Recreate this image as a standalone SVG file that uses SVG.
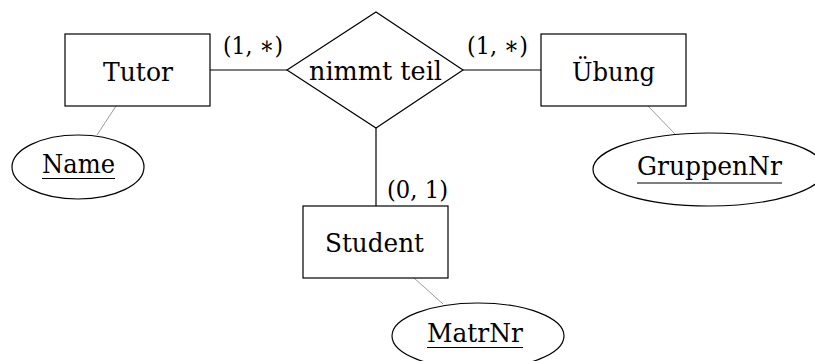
<svg xmlns="http://www.w3.org/2000/svg" width="815" height="361" viewBox="0 0 815 361">
<style>
.shape{fill:#fff;stroke:#000;stroke-width:1.2}
.edge{stroke:#000;stroke-width:1.2;fill:none}
.attr{stroke:#808080;stroke-width:0.8;fill:none}
.ul{stroke:#000;stroke-width:1.2}
.t{font-family:'DejaVu Serif', serif;font-size:26px;fill:#000;text-anchor:middle}
.card{font-size:25px}
</style>
<rect width="815" height="361" fill="#fff"/>
<g id="connectors">
<line class="edge" x1="210" y1="70" x2="287" y2="70"/>
<line class="edge" x1="463" y1="70" x2="541" y2="70"/>
<line class="edge" x1="376" y1="128" x2="376" y2="206"/>
<line class="attr" x1="116" y1="106" x2="97" y2="135"/>
<line class="attr" x1="648" y1="106" x2="675" y2="134"/>
<line class="attr" x1="414" y1="278" x2="443" y2="304"/>
<text class="t card" x="253" y="54" textLength="60" lengthAdjust="spacingAndGlyphs">(1, ∗)</text>
<text class="t card" x="497.5" y="54" textLength="61" lengthAdjust="spacingAndGlyphs">(1, ∗)</text>
<text class="t card" x="417.5" y="198" textLength="61" lengthAdjust="spacingAndGlyphs">(0, 1)</text>
</g>
<g id="tutor">
<rect class="shape" x="65" y="34" width="145" height="72"/>
<text class="t" x="138" y="81" textLength="70" lengthAdjust="spacingAndGlyphs">Tutor</text>
</g>
<g id="nimmt-teil">
<polygon class="shape" points="287,70 376,12 463,70 376,128"/>
<text class="t" x="375.5" y="80" textLength="133" lengthAdjust="spacingAndGlyphs">nimmt teil</text>
</g>
<g id="uebung">
<rect class="shape" x="541" y="34" width="145" height="72"/>
<text class="t" x="613.5" y="81" textLength="83" lengthAdjust="spacingAndGlyphs">Übung</text>
</g>
<g id="student">
<rect class="shape" x="303" y="206" width="145" height="72"/>
<text class="t" x="374.5" y="252" textLength="99" lengthAdjust="spacingAndGlyphs">Student</text>
</g>
<g id="name">
<ellipse class="shape" cx="78" cy="167" rx="66" ry="32"/>
<text class="t" x="78.5" y="173" textLength="73" lengthAdjust="spacingAndGlyphs">Name</text>
<line class="ul" x1="42" y1="178.5" x2="115" y2="178.5"/>
</g>
<g id="gruppennr">
<ellipse class="shape" cx="709" cy="169.5" rx="116" ry="36.5"/>
<text class="t" x="709.5" y="175" textLength="145" lengthAdjust="spacingAndGlyphs">GruppenNr</text>
<line class="ul" x1="637" y1="183" x2="782" y2="183"/>
</g>
<g id="matrnr">
<ellipse class="shape" cx="478" cy="336" rx="86" ry="33"/>
<text class="t" x="475" y="342" textLength="96" lengthAdjust="spacingAndGlyphs">MatrNr</text>
<line class="ul" x1="427" y1="347.5" x2="523" y2="347.5"/>
</g>
</svg>
